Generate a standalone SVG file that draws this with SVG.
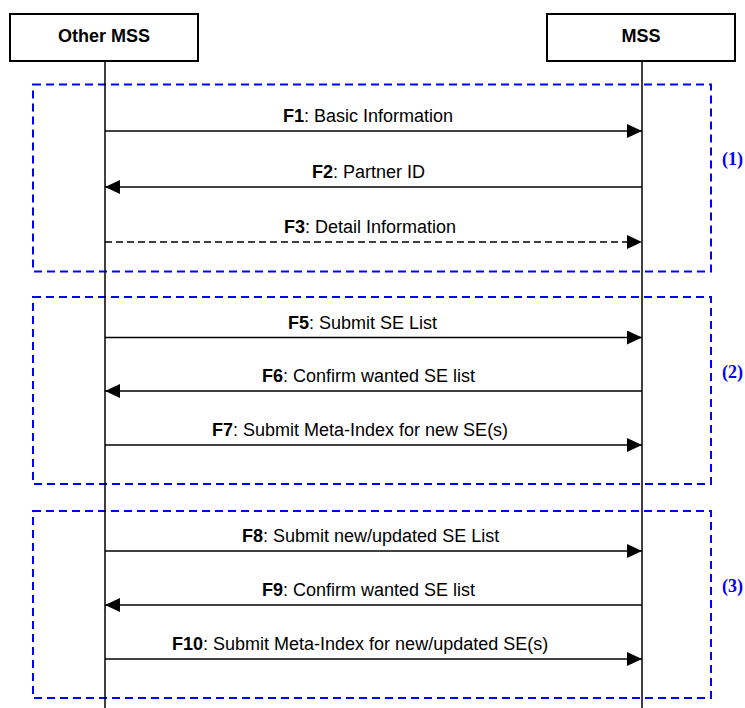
<svg xmlns="http://www.w3.org/2000/svg" width="745" height="708" viewBox="0 0 745 708">
<defs>
<style>
.box{fill:#fff;stroke:#000;stroke-width:2}
.life{stroke:#000;stroke-width:1.5;fill:none}
.msg{stroke:#000;stroke-width:1.5;fill:none}
.dash{stroke-dasharray:7 4}
.grp{fill:none;stroke:#0000ff;stroke-width:2;stroke-dasharray:8 5}
.t{font-family:"Liberation Sans",Arial,sans-serif;font-size:18px;fill:#000}
.b{font-weight:bold}
.g{font-family:"Liberation Serif","Times New Roman",serif;font-size:18px;font-weight:bold;fill:#0000ff}
</style>
<marker id="ah" markerWidth="15" markerHeight="14" refX="15" refY="7" orient="auto" markerUnits="userSpaceOnUse">
<path d="M0,0 L15,7 L0,14 Z" fill="#000"/>
</marker>
</defs>
<rect width="745" height="708" fill="#fff"/>

<g id="groups">
<rect class="grp" x="33" y="84.5" width="678" height="187"/>
<rect class="grp" x="33" y="297" width="678" height="187"/>
<rect class="grp" x="33" y="511" width="678" height="187"/>
<text class="g" x="722" y="165">(1)</text>
<text class="g" x="722" y="378">(2)</text>
<text class="g" x="722" y="592">(3)</text>
</g>

<g id="node-other-mss">
<line class="life" x1="105" y1="61" x2="105" y2="708"/>
<rect class="box" x="10" y="14" width="188" height="47"/>
<text class="t b" x="104" y="42" text-anchor="middle">Other MSS</text>
</g>

<g id="node-mss">
<line class="life" x1="642" y1="61" x2="642" y2="708"/>
<rect class="box" x="547" y="14" width="188" height="47"/>
<text class="t b" x="641" y="42" text-anchor="middle">MSS</text>
</g>

<g id="connectors">
<line class="msg" x1="105" y1="131" x2="642" y2="131" marker-end="url(#ah)"/>
<text class="t" x="283" y="122"><tspan class="b">F1</tspan>: Basic Information</text>
<line class="msg" x1="642" y1="187" x2="105" y2="187" marker-end="url(#ah)"/>
<text class="t" x="312" y="178"><tspan class="b">F2</tspan>: Partner ID</text>
<line class="msg dash" x1="105" y1="242" x2="642" y2="242" marker-end="url(#ah)"/>
<text class="t" x="284" y="233"><tspan class="b">F3</tspan>: Detail Information</text>

<line class="msg" x1="105" y1="337.5" x2="642" y2="337.5" marker-end="url(#ah)"/>
<text class="t" x="288" y="329"><tspan class="b">F5</tspan>: Submit SE List</text>
<line class="msg" x1="642" y1="391" x2="105" y2="391" marker-end="url(#ah)"/>
<text class="t" x="262" y="382"><tspan class="b">F6</tspan>: Confirm wanted SE list</text>
<line class="msg" x1="105" y1="445" x2="642" y2="445" marker-end="url(#ah)"/>
<text class="t" x="212" y="436"><tspan class="b">F7</tspan>: Submit Meta-Index for new SE(s)</text>

<line class="msg" x1="105" y1="551" x2="642" y2="551" marker-end="url(#ah)"/>
<text class="t" x="242" y="542"><tspan class="b">F8</tspan>: Submit new/updated SE List</text>
<line class="msg" x1="642" y1="605" x2="105" y2="605" marker-end="url(#ah)"/>
<text class="t" x="262" y="596"><tspan class="b">F9</tspan>: Confirm wanted SE list</text>
<line class="msg" x1="105" y1="659" x2="642" y2="659" marker-end="url(#ah)"/>
<text class="t" x="172" y="650"><tspan class="b">F10</tspan>: Submit Meta-Index for new/updated SE(s)</text>
</g>
</svg>
